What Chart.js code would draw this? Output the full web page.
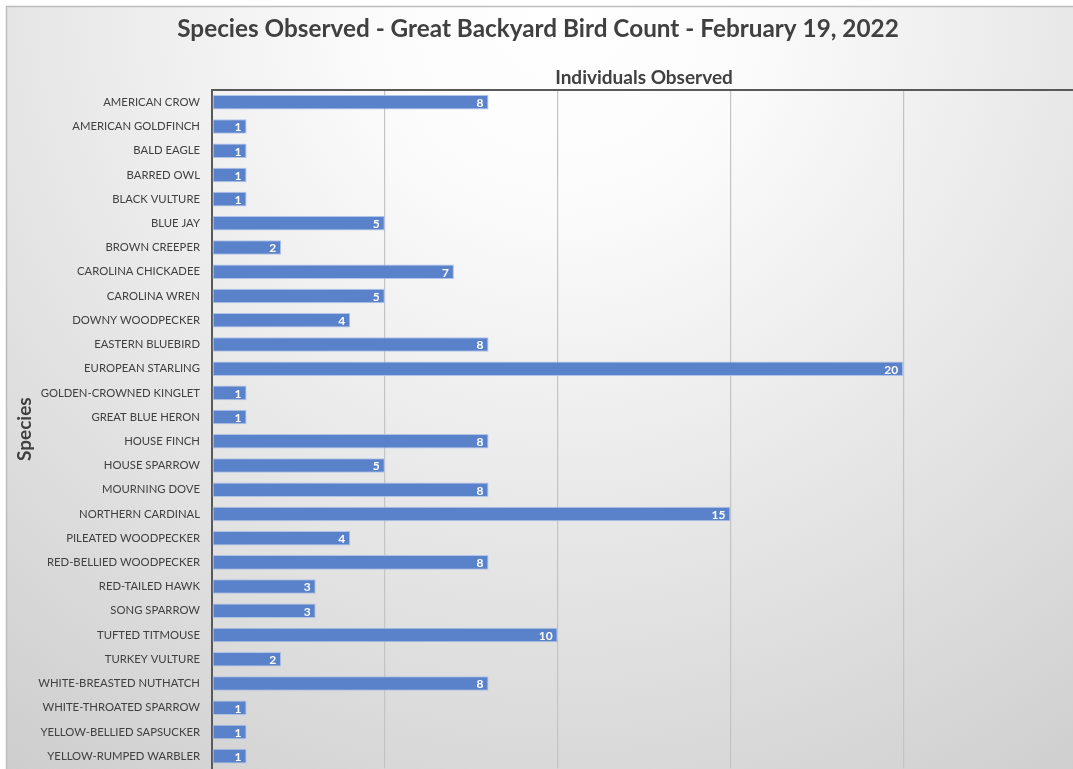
<!DOCTYPE html>
<html>
<head>
<meta charset="utf-8">
<script src="https://cdn.jsdelivr.net/npm/chart.js@4/dist/chart.umd.min.js"></script>
<style>
  html, body { margin: 0; padding: 0; background: #fff; overflow: hidden; }
  #wrap { width: 1073px; height: 769px; overflow: hidden; position: relative; }
  #birdcanvas { position: absolute; left: 0; top: 0; }
</style>
</head>
<body>
<div id="wrap"><canvas id="birdcanvas" width="1080" height="787"></canvas></div>
<script>
var species = [
  'AMERICAN CROW', 'AMERICAN GOLDFINCH', 'BALD EAGLE', 'BARRED OWL', 'BLACK VULTURE',
  'BLUE JAY', 'BROWN CREEPER', 'CAROLINA CHICKADEE', 'CAROLINA WREN', 'DOWNY WOODPECKER',
  'EASTERN BLUEBIRD', 'EUROPEAN STARLING', 'GOLDEN-CROWNED KINGLET', 'GREAT BLUE HERON',
  'HOUSE FINCH', 'HOUSE SPARROW', 'MOURNING DOVE', 'NORTHERN CARDINAL', 'PILEATED WOODPECKER',
  'RED-BELLIED WOODPECKER', 'RED-TAILED HAWK', 'SONG SPARROW', 'TUFTED TITMOUSE',
  'TURKEY VULTURE', 'WHITE-BREASTED NUTHATCH', 'WHITE-THROATED SPARROW',
  'YELLOW-BELLIED SAPSUCKER', 'YELLOW-RUMPED WARBLER'
];
var counts = [
  8, 1, 1, 1, 1,
  5, 2, 7, 5, 4,
  8, 20, 1, 1,
  8, 5, 8, 15, 4,
  8, 3, 3, 10,
  2, 8, 1,
  1, 1
];
var xTicks = [0, 5, 10, 15, 20, 25];

// background + frame, like the excel chart area
var chartBackground = {
  id: 'chartBackground',
  beforeDraw: function(chart) {
    var ctx = chart.ctx;
    ctx.save();
    ctx.fillStyle = '#ffffff';
    ctx.fillRect(0, 0, chart.width, chart.height);
    var g = ctx.createRadialGradient(560, 10, 0, 560, 10, 980);
    g.addColorStop(0, '#ffffff');
    g.addColorStop(0.2, '#fbfbfb');
    g.addColorStop(1, '#cbcbcb');
    ctx.fillStyle = g;
    ctx.fillRect(6, 6, chart.width - 6, chart.height - 6);
    ctx.strokeStyle = '#bdbdbd';
    ctx.lineWidth = 1.5;
    ctx.beginPath();
    ctx.moveTo(6.5, chart.height);
    ctx.lineTo(6.5, 6.5);
    ctx.lineTo(chart.width, 6.5);
    ctx.stroke();
    ctx.restore();
  }
};

// white value labels at the inner end of each bar
var barLabels = {
  id: 'barLabels',
  afterDatasetsDraw: function(chart) {
    var ctx = chart.ctx;
    var meta = chart.getDatasetMeta(0);
    ctx.save();
    ctx.fillStyle = '#ffffff';
    ctx.font = 'bold 12px Lato';
    ctx.textAlign = 'right';
    ctx.textBaseline = 'middle';
    meta.data.forEach(function(bar, i) {
      ctx.fillText(counts[i], bar.x - 5, bar.y + 1);
    });
    ctx.restore();
  }
};

var chartdata = {
  labels: species,
  datasets: [
    {
      label: 'Individuals Observed',
      backgroundColor: '#5a82cb',
      borderColor: 'rgba(170,192,232,0.9)',
      borderWidth: 1,
      borderSkipped: false,
      barPercentage: 0.6,
      categoryPercentage: 1.0,
      data: counts
    }
  ]
};

var ctx = document.getElementById('birdcanvas');
var barGraph = new Chart(ctx, {
  type: 'bar',
  data: chartdata,
  plugins: [chartBackground, barLabels],
  options: {
    indexAxis: 'y',
    responsive: false,
    animation: false,
    layout: { padding: { left: 0, right: 4, top: 0, bottom: 1 } },
    plugins: {
      legend: { display: false },
      tooltip: { enabled: false },
      title: {
        display: true,
        text: 'Species Observed - Great Backyard Bird Count - February 19, 2022',
        color: '#404040',
        font: { family: 'Lato', size: 24.3, weight: 'bold' },
        padding: { top: 15, bottom: 0 }
      }
    },
    scales: {
      x: {
        position: 'top',
        min: 0,
        max: 25,
        afterBuildTicks: function(scale) {
          scale.ticks = xTicks.map(function(v) { return { value: v }; });
        },
        afterFit: function(scale) { scale.height = 46; },
        ticks: { display: false },
        grid: { color: '#c4c4c4', lineWidth: 1.2, drawTicks: false },
        border: { color: '#595959', width: 2 },
        title: {
          display: true,
          text: 'Individuals Observed',
          color: '#404040',
          font: { family: 'Lato', size: 19, weight: 'bold' },
          padding: { top: 22, bottom: 0 }
        }
      },
      y: {
        afterFit: function(scale) { scale.width = 212; },
        ticks: {
          color: '#404040',
          font: { family: 'Lato', size: 11.3 },
          padding: 12,
          autoSkip: false
        },
        grid: { display: false, drawTicks: false },
        border: { color: '#595959', width: 2 },
        title: {
          display: true,
          text: 'Species',
          color: '#404040',
          font: { family: 'Lato', size: 19, weight: 'bold' },
          padding: { top: 13, bottom: 0 }
        }
      }
    }
  }
});
</script>
</body>
</html>
